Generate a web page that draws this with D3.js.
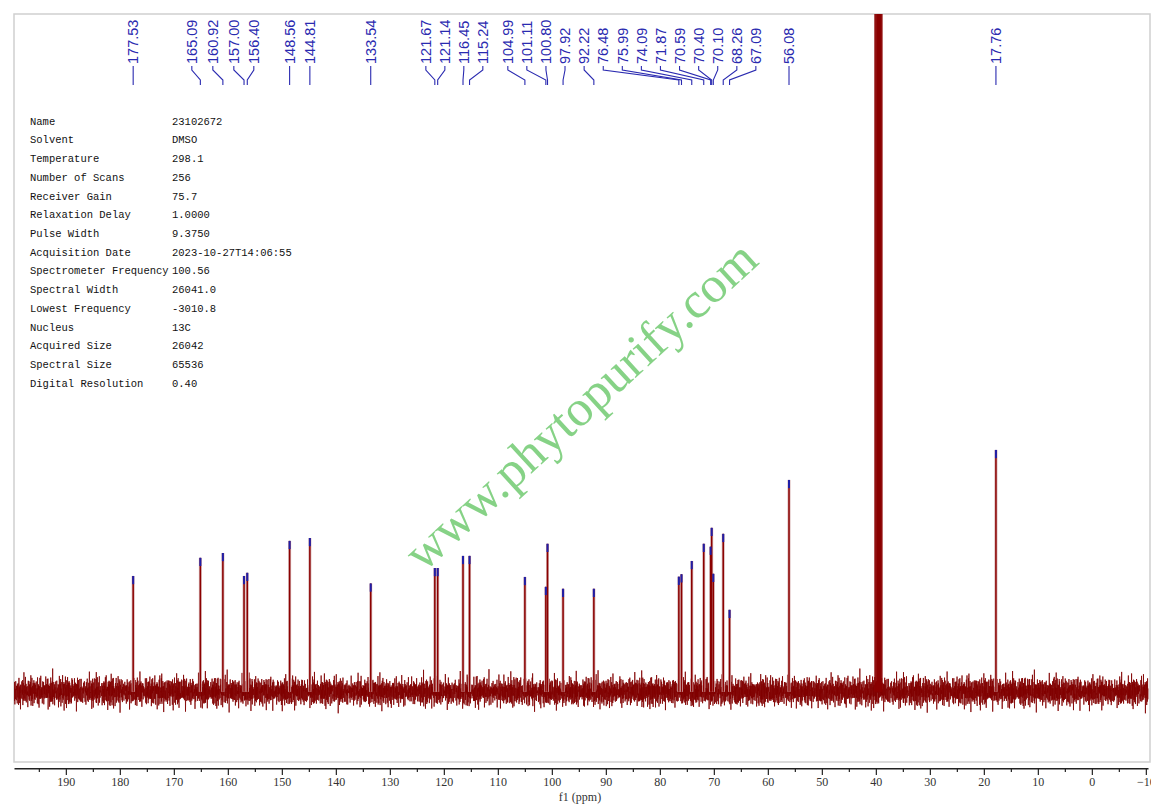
<!DOCTYPE html>
<html><head><meta charset="utf-8">
<script src="https://cdn.jsdelivr.net/npm/d3@7/dist/d3.min.js"></script>
<style>body{margin:0;background:#fff}svg{display:block}</style>
</head><body>
<svg id="c" width="1164" height="808"></svg>
<script>
// ---- data ----
const peakPpm    = [177.53,165.09,160.92,157.00,156.40,148.56,144.81,133.54,121.67,121.14,116.45,115.24,104.99,101.11,100.80,97.92,92.22,76.48,75.99,74.09,71.87,70.59,70.40,70.10,68.26,67.09,56.08,17.76];
const peakHeight = [47.9,55.4,57.4,47.9,49.2,62.4,63.6,44.8,51.2,51.2,56.2,56.2,47.5,43.4,61.2,42.6,42.6,47.6,48.6,54.1,61.2,60.0,67.8,48.8,65.3,33.9,87.6,100];
// where each label sits on the ppm axis
const labelAnchor = [177.53,166.67,162.78,158.89,155.19,148.56,144.81,133.54,123.33,119.81,116.30,112.78,108.15,104.63,101.09,97.56,94.02,90.48,86.95,83.42,79.89,76.35,72.81,69.28,65.74,62.22,56.08,17.76];
const solventPpm    = [40.14,39.94,39.73,39.52,39.31,39.10,38.89];
const solventHeight = [420,1250,2500,2900,2500,1250,420];
const noiseA = [0.8,-1.9,2.6,-0.4,-3.1,1.5,0.2,-2.2,3.4,-1.1,0.6,-2.8,1.9,-0.3,2.2,-3.6,0.9,1.4,-1.6,2.9,-0.7,-2.4,1.1,3.8,-1.3,0.4,-2.9,2.1,-0.9,1.7,-4.2,0.3,2.5,-1.8,0.7,-0.2,3.1,-2.6,1.3,-1.0,2.4,-3.3,0.5,1.8,-0.6,-2.1,4.5,-1.4,0.1,2.0,-2.7,1.2,-0.8,3.0,-1.7,-0.1,2.7,-3.9,1.6,0.9,-1.2,2.3,-2.0,0.4,-3.4,1.0,2.8,-0.5,-1.5,3.6,-2.3,0.2,1.4,-2.5,0.8,-0.4,2.6,-1.9,5.2,-3.0,0.6,1.1,-2.2,2.9,-0.9,-1.3,1.9,-4.8,0.7,2.2,-1.1,0.3,3.3,-2.8,1.5,-0.7,-2.0,2.4,-1.6,0.9,-0.3];
const noiseB = [0.9,-1.2,0.4,1.6,-0.8,-1.5,1.1,0.2,-0.6,1.8,-1.9,0.7,-0.3,1.3,-1.0,0.5,2.1,-1.4,0.0,-0.7,1.5,-2.2,0.8,0.3,-1.1,1.9,-0.5,-1.6,1.0,0.6,-1.3,2.4,-0.9,0.1,-1.8,1.2,-0.2];
const majorTicks = [190,180,170,160,150,140,130,120,110,100,90,80,70,60,50,40,30,20,10,0,-10];
const minorTicks = [195,185,175,165,155,145,135,125,115,105,95,85,75,65,55,45,35,25,15,5,-5];
const paramNames  = ["Name","Solvent","Temperature","Number of Scans","Receiver Gain","Relaxation Delay","Pulse Width","Acquisition Date","Spectrometer Frequency","Spectral Width","Lowest Frequency","Nucleus","Acquired Size","Spectral Size","Digital Resolution"];
const paramValues = ["23102672","DMSO","298.1","256","75.7","1.0000","9.3750","2023-10-27T14:06:55","100.56","26041.0","-3010.8","13C","26042","65536","0.40"];

// ---- scales ----
const svg = d3.select("#c");
const L=14, R=1150, T=14, B=762;
const x = d3.scaleLinear().domain([199.6,-10.4]).range([14,1148]);
const y = d3.scaleLinear().domain([-29,280.6]).range([762,13]);
const noiseGain = 1.45;

svg.append("defs").append("clipPath").attr("id","plot")
  .append("rect").attr("x",L).attr("y",T).attr("width",R-L).attr("height",B-T);
svg.select("defs").append("clipPath").attr("id","axclip")
  .append("rect").attr("x",0).attr("y",0).attr("width",R+1).attr("height",808);

// frame
svg.append("rect").attr("x",L).attr("y",T).attr("width",R-L).attr("height",B-T)
  .attr("fill","none").attr("stroke","#cfcfcf").attr("stroke-width",1.5);

// ---- spectrum ----
const g = svg.append("g").attr("clip-path","url(#plot)");
const step = 0.04;
const n = Math.round((199.6+10.4)/step);
const pts = d3.range(n+1).map(i => [199.6 - i*step, noiseGain*(noiseA[i % noiseA.length] + 0.6*noiseB[i % noiseB.length])]);
g.append("path").datum(pts)
  .attr("d", d3.line().x(d=>x(d[0])).y(d=>y(d[1])))
  .attr("fill","none").attr("stroke","#800000").attr("stroke-width",0.8);

const peaks = peakPpm.map((p,i)=>({p, h:peakHeight[i], a:labelAnchor[i]}));
const solvent = solventPpm.map((p,i)=>({p, h:solventHeight[i]}));
g.selectAll("line.halo").data(peaks).join("line").attr("class","halo")
  .attr("x1",d=>x(d.p)).attr("x2",d=>x(d.p)).attr("y1",y(0)).attr("y2",d=>y(d.h))
  .attr("stroke","#d6b2b2").attr("stroke-width",3);
g.selectAll("line.core").data(peaks.concat(solvent)).join("line").attr("class","core")
  .attr("x1",d=>x(d.p)).attr("x2",d=>x(d.p)).attr("y1",y(0)).attr("y2",d=>y(d.h))
  .attr("stroke","#8b0000").attr("stroke-width",1.5);
g.selectAll("line.tip").data(peaks).join("line").attr("class","tip")
  .attr("x1",d=>x(d.p)).attr("x2",d=>x(d.p)).attr("y1",d=>y(d.h)).attr("y2",d=>y(d.h-3.4))
  .attr("stroke","#1f1fa8").attr("stroke-width",2);

// ---- peak labels ----
const blue = "#2a2ab0";
const lab = svg.append("g");
lab.selectAll("path").data(peaks).join("path")
  .attr("d",d=>`M${x(d.a)},66 V70 L${x(d.p)},80 V85`)
  .attr("fill","none").attr("stroke",blue).attr("stroke-width",1.1);
lab.selectAll("text").data(peaks).join("text")
  .attr("transform",d=>`translate(${x(d.a)},64) rotate(-90)`)
  .attr("dy","0.36em")
  .attr("font-family","'Liberation Sans',Arial,sans-serif").attr("font-size",14.5)
  .attr("fill",blue).text(d=>d3.format(".2f")(d.p));

// ---- parameter table ----
const py = d3.scalePoint().domain(paramNames).range([121,383]);
const tb = svg.append("g").attr("font-family","'Liberation Mono',monospace").attr("font-size",10.5).attr("fill","#111");
tb.selectAll("text.n").data(paramNames).join("text").attr("class","n")
  .attr("x",30).attr("y",d=>py(d)).attr("dy","0.35em").text(d=>d);
tb.selectAll("text.v").data(paramValues).join("text").attr("class","v")
  .attr("x",172).attr("y",(d,i)=>py(paramNames[i])).attr("dy","0.35em").text(d=>d);

// ---- axis ----
const ax = svg.append("g").attr("clip-path","url(#axclip)").attr("transform","translate(0,768)");
ax.append("g").call(d3.axisBottom(x).tickValues(minorTicks).tickSize(4).tickFormat("").tickSizeOuter(0))
  .call(s=>s.select(".domain").remove()).selectAll("line").attr("stroke","#222").attr("stroke-width",1.2);
const mj = ax.append("g").call(d3.axisBottom(x).tickValues(majorTicks).tickSize(7).tickPadding(2).tickSizeOuter(0).tickFormat(d3.format("d")));
mj.select(".domain").attr("stroke","#222").attr("stroke-width",1.8);
mj.selectAll("line").attr("stroke","#222").attr("stroke-width",1.2);
mj.selectAll("text").attr("font-family","'Liberation Serif',serif").attr("font-size",12).attr("fill","#333");
svg.append("text").attr("x",580).attr("y",801).attr("text-anchor","middle")
  .attr("font-family","'Liberation Serif',serif").attr("font-size",12).attr("fill","#333").text("f1 (ppm)");

// ---- watermark ----
svg.append("text").attr("transform","translate(592,418) rotate(-42.6)")
  .attr("text-anchor","middle").attr("font-family","'Liberation Serif',serif")
  .attr("font-size",51).attr("fill","#7fd07f").attr("fill-opacity",0.95).text("www.phytopurify.com");
</script>
</body></html>
